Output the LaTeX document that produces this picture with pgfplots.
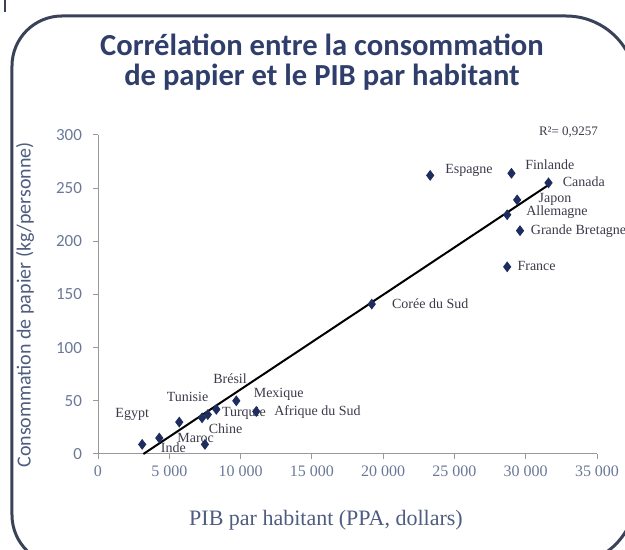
\documentclass[border=0pt]{standalone}
\usepackage{pgfplots}
\pgfplotsset{compat=1.18}
\usepackage{fontspec}
\setmainfont{Liberation Serif}
\newfontfamily\carlito{Carlito}
\definecolor{titlecol}{HTML}{2F3E6B}
\definecolor{framecol}{HTML}{3A4258}
\definecolor{labcol}{HTML}{4E5C80}
\definecolor{tickcol}{HTML}{6A7898}
\definecolor{markcol}{HTML}{1F2D5E}
\definecolor{txtcol}{HTML}{3A3A4A}

\begin{document}
\begin{tikzpicture}
\begin{axis}[
  scale only axis, width=249.5pt, height=159.5pt,
  xmin=0, xmax=35000, ymin=0, ymax=300,
  axis x line*=bottom, axis y line*=left,
  axis line style={-, draw=gray!80, line width=0.5pt},
  xtick={0,5000,10000,15000,20000,25000,30000,35000},
  xticklabels={0,5 000,10 000,15 000,20 000,25 000,30 000,35 000},
  scaled x ticks=false,
  ytick={0,50,100,150,200,250,300},
  tick align=outside, major tick length=2.5pt,
  tick style={gray!80, line width=0.5pt},
  /pgf/number format/assume math mode=true,
  xticklabel style={tickcol, font=\fontsize{8}{9}\selectfont},
  yticklabel style={tickcol, font=\carlito\fontsize{8.5}{9}\selectfont, xshift=-2pt},
  clip=false,
]
\addplot[only marks, mark=diamond*, mark size=2.4pt, markcol] coordinates {
  (3100,9) (4300,15) (5700,30) (7300,34) (7700,37) (8300,42) (7500,9)
  (9700,50) (11100,40) (19200,141) (23300,262) (28700,176) (28700,225)
  (29000,264) (29400,239) (29600,210) (31600,255)
};
\addplot[black, line width=1pt] coordinates {(3180,0) (31600,253)};

\begin{scope}[every node/.style={txtcol, inner sep=0pt, font=\fontsize{7}{8}\selectfont}]
\node[anchor=east] at (axis cs:3600,37.3) {Egypt};
\node at (axis cs:5280,5.9) {Inde};
\node at (axis cs:6280,53.3) {Tunisie};
\node at (axis cs:9260,71.2) {Brésil};
\node[anchor=west] at (axis cs:10900,56.2) {Mexique};
\node[anchor=west] at (axis cs:8670,38.5) {Turquie};
\node at (axis cs:8950,23.5) {Chine};
\node at (axis cs:6850,15) {Maroc};
\node[anchor=west] at (axis cs:12340,39.8) {Afrique du Sud};
\node[anchor=west] at (axis cs:20600,141) {Corée du Sud};
\node[anchor=west] at (axis cs:29400,177) {France};
\node[anchor=west] at (axis cs:30340,209.8) {Grande Bretagne};
\node[anchor=west] at (axis cs:30010,227.3) {Allemagne};
\node[anchor=west] at (axis cs:30880,239) {Japon};
\node[anchor=west] at (axis cs:32580,256.2) {Canada};
\node[anchor=west] at (axis cs:29940,271.9) {Finlande};
\node[anchor=west] at (axis cs:24330,266.5) {Espagne};
\node[font=\fontsize{6.5}{7}\selectfont] at (axis cs:33000,303) {R²= 0,9257};
\end{scope}
\coordinate (O) at (axis cs:0,0);
\end{axis}

% page origin: 49pt left and 48pt below the axis origin
\coordinate (P) at ([shift={(-49pt,-48pt)}]O);
\begin{scope}[shift={(P)}, x=1pt, y=1pt]
\begin{scope}
\clip (0,0) rectangle (312.5,275);
\draw[framecol, line width=1.5pt] (6,17.5) -- (6,242)
  arc[start angle=180, end angle=90, radius=25] -- (283,267)
  arc[start angle=90, end angle=0, radius=35] -- (318,27.5)
  arc[start angle=0, end angle=-90, radius=35] -- (31,-7.5)
  arc[start angle=270, end angle=180, radius=25] -- cycle;
\draw[framecol, line width=1pt] (2.5,275) -- (2.5,269);
\end{scope}
\node[titlecol, font=\carlito\bfseries\fontsize{15.3}{15}\selectfont, align=center] at (161,244)
  {Corrélation entre la consommation\\de papier et le PIB par habitant};
\node[labcol, rotate=90, font=\carlito\fontsize{10}{12}\selectfont] at (12.5,122.5)
  {Consommation de papier (kg/personne)};
\node[labcol, font=\fontsize{11}{13}\selectfont] at (163,15)
  {PIB par habitant (PPA, dollars)};
\end{scope}
\pgfresetboundingbox
\path[use as bounding box] (P) rectangle ([shift={(312.5pt,275pt)}]P);
\end{tikzpicture}
\end{document}
